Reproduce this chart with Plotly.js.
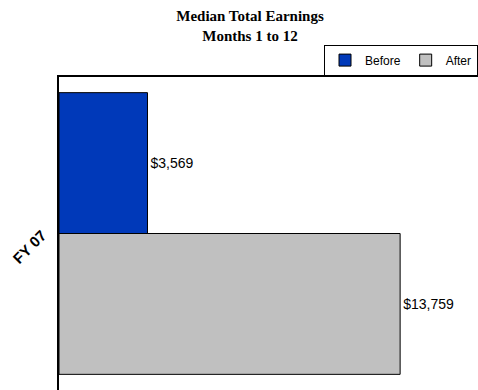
<!DOCTYPE html>
<html>
<head>
<meta charset="utf-8">
<script src="https://cdn.plot.ly/plotly-3.0.1.min.js"></script>
<style>html,body{margin:0;padding:0;background:#fff;}#chart{width:478px;height:390px;}</style>
</head>
<body>
<div id="chart"></div>
<script>
const categories = ["FY 07"];
const seriesNames = ["Before", "After"];
const beforeValues = [3569];
const afterValues = [13759];
const seriesColors = ["#0039B9", "#C0C0C0"];

function money(v) { return "$" + v.toLocaleString("en-US"); }

const traces = [beforeValues, afterValues].map((vals, i) => ({
  type: "bar",
  orientation: "h",
  name: seriesNames[i],
  y: categories,
  x: vals,
  text: vals.map(money),
  textposition: "outside",
  cliponaxis: false,
  textfont: {family: "Liberation Sans, Arial, sans-serif", size: 14, color: "#000"},
  marker: {color: seriesColors[i], line: {color: "#000", width: 1}},
  hoverinfo: "none"
}));

const layout = {
  width: 478, height: 390,
  paper_bgcolor: "#fff", plot_bgcolor: "#fff",
  margin: {l: 59, r: 0, t: 77, b: 0, autoexpand: false},
  barmode: "group",
  bargap: 0.1,
  bargroupgap: 0,
  title: {
    text: "<b>Median Total Earnings<br>Months 1 to 12</b>",
    font: {family: "Liberation Serif, Times New Roman, serif", size: 15, color: "#000"},
    x: 0.523, xanchor: "center", xref: "container",
    y: 0.946, yanchor: "middle", yref: "container"
  },
  xaxis: {
    side: "top", range: [0, 16900], showgrid: false, zeroline: false,
    showticklabels: false, ticks: "", showline: true, linecolor: "#000", linewidth: 2
  },
  yaxis: {
    autorange: "reversed", showgrid: false, zeroline: false,
    showline: true, linecolor: "#000", linewidth: 2, ticks: "",
    tickangle: -45, ticklabelstandoff: 12,
    tickfont: {family: "Liberation Sans, Arial, sans-serif", size: 15, color: "#000", weight: "bold"}
  },
  showlegend: true,
  legend: {
    orientation: "h", x: 1, xanchor: "right", y: 1.054, yanchor: "middle",
    bordercolor: "#000", borderwidth: 1, bgcolor: "#fff",
    font: {family: "Liberation Sans, Arial, sans-serif", size: 12, color: "#000"},
    itemwidth: 30, traceorder: "normal"
  }
};

Plotly.newPlot("chart", traces, layout, {staticPlot: true});
</script>
</body>
</html>
